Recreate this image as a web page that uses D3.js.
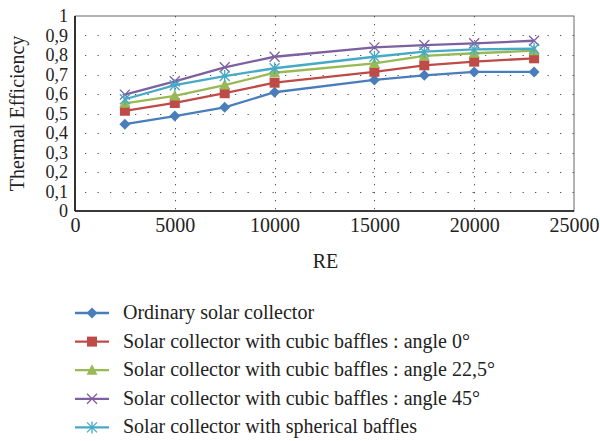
<!DOCTYPE html>
<html>
<head>
<meta charset="utf-8">
<script src="https://cdn.jsdelivr.net/npm/d3@7/dist/d3.min.js"></script>
<style>
  body { margin: 0; background: #fff; }
  svg { font-family: "Liberation Serif", "DejaVu Serif", serif; }
</style>
</head>
<body>
<div id="content"></div>
<script>
var reValues = [2500, 5000, 7500, 10000, 15000, 17500, 20000, 23000];

var ordinary   = [0.445, 0.487, 0.532, 0.609, 0.672, 0.696, 0.713, 0.713];
var cubic0     = [0.514, 0.554, 0.604, 0.658, 0.714, 0.747, 0.766, 0.783];
var cubic225   = [0.552, 0.590, 0.646, 0.709, 0.757, 0.795, 0.809, 0.822];
var cubic45    = [0.597, 0.665, 0.737, 0.791, 0.839, 0.851, 0.860, 0.873];
var spherical  = [0.573, 0.645, 0.692, 0.732, 0.791, 0.817, 0.829, 0.832];

var seriesNames = ['Ordinary solar collector',
                   'Solar collector with cubic baffles : angle 0°',
                   'Solar collector with cubic baffles : angle 22,5°',
                   'Solar collector with cubic baffles : angle 45°',
                   'Solar collector with spherical baffles'];

var xTicks = [0, 5000, 10000, 15000, 20000, 25000];
var yTicks = [0, 0.1, 0.2, 0.3, 0.4, 0.5, 0.6, 0.7, 0.8, 0.9, 1];

var series = [
    {name: seriesNames[0], values: ordinary,  color: '#4a7ebb', marker: 'diamond'},
    {name: seriesNames[1], values: cubic0,    color: '#be4b48', marker: 'square'},
    {name: seriesNames[2], values: cubic225,  color: '#98b954', marker: 'triangle'},
    {name: seriesNames[3], values: cubic45,   color: '#7d60a0', marker: 'x'},
    {name: seriesNames[4], values: spherical, color: '#46aac5', marker: 'star'}
];

var width = 600, height = 441;
var plotL = 75, plotR = 574, plotT = 16, plotB = 211;
var fontSize = 20;

var svg = d3.select('div#content').append('svg')
    .attr('width', width)
    .attr('height', height);

var x = d3.scaleLinear().domain([0, 25000]).range([plotL, plotR]);
var y = d3.scaleLinear().domain([0, 1]).range([plotB, plotT]);

// dotted grid
svg.append('g').selectAll('line')
    .data(yTicks.slice(1, -1)).enter()
    .append('line')
        .attr('x1', plotL).attr('x2', plotR)
        .attr('y1', function(d){ return Math.round(y(d)) + 0.5; })
        .attr('y2', function(d){ return Math.round(y(d)) + 0.5; })
        .attr('stroke', '#555')
        .attr('stroke-width', 1)
        .attr('stroke-dasharray', '1.3,11.2')
        .attr('stroke-dashoffset', -10);

svg.append('g').selectAll('line')
    .data(xTicks.slice(1, -1)).enter()
    .append('line')
        .attr('x1', function(d){ return Math.round(x(d)) + 0.5; })
        .attr('x2', function(d){ return Math.round(x(d)) + 0.5; })
        .attr('y1', plotT).attr('y2', plotB)
        .attr('stroke', '#555')
        .attr('stroke-width', 1)
        .attr('stroke-dasharray', '1.3,6.7');

// plot frame
svg.append('rect')
    .attr('x', plotL).attr('y', plotT)
    .attr('width', plotR - plotL).attr('height', plotB - plotT)
    .attr('fill', 'none')
    .attr('stroke', '#444')
    .attr('stroke-width', 0.8);

svg.append('line')
    .attr('x1', plotL).attr('x2', plotR)
    .attr('y1', plotB).attr('y2', plotB)
    .attr('stroke', '#111').attr('stroke-width', 1.6);
svg.append('line')
    .attr('x1', plotL).attr('x2', plotL)
    .attr('y1', plotT).attr('y2', plotB)
    .attr('stroke', '#111').attr('stroke-width', 1.6);

// axes (labels only)
var fmtY = function(d){ return d === 0 ? '0' : d === 1 ? '1' : d3.format('.1f')(d).replace('.', ','); };

var yAxis = svg.append('g')
    .attr('transform', 'translate(' + plotL + ',0)')
    .call(d3.axisLeft(y).tickValues(yTicks).tickFormat(fmtY).tickSize(0).tickPadding(7));
var xAxis = svg.append('g')
    .attr('transform', 'translate(0,' + plotB + ')')
    .call(d3.axisBottom(x).tickValues(xTicks).tickFormat(d3.format('d')).tickSize(0).tickPadding(7));

xAxis.select('.domain').remove();
xAxis.selectAll('text')
    .attr('font-family', '"Liberation Serif", serif')
    .attr('font-size', fontSize)
    .attr('fill', '#222');

yAxis.select('.domain').remove();
yAxis.selectAll('text')
    .attr('font-family', '"Liberation Serif", serif')
    .attr('font-size', 18)
    .attr('fill', '#222');

svg.append('text')
    .attr('x', (plotL + plotR) / 2 + 1)
    .attr('y', 268)
    .attr('text-anchor', 'middle')
    .attr('font-size', fontSize)
    .attr('fill', '#222')
    .text('RE');

svg.append('text')
    .attr('transform', 'translate(24,' + ((plotT + plotB) / 2) + ') rotate(-90)')
    .attr('text-anchor', 'middle')
    .attr('font-size', fontSize)
    .attr('fill', '#222')
    .text('Thermal Efficiency');

function drawMarker(g, type, color) {
    if (type === 'diamond') {
        g.append('path').attr('d', 'M0,-5.5L5.5,0L0,5.5L-5.5,0Z').attr('fill', color);
    } else if (type === 'square') {
        g.append('rect').attr('x', -5).attr('y', -5).attr('width', 10).attr('height', 10).attr('fill', color);
    } else if (type === 'triangle') {
        g.append('path').attr('d', 'M0,-6L5.5,4.5L-5.5,4.5Z').attr('fill', color);
    } else if (type === 'x') {
        g.append('path').attr('d', 'M-5,-5L5,5M-5,5L5,-5')
            .attr('stroke', color).attr('stroke-width', 1.3).attr('fill', 'none');
    } else if (type === 'star') {
        g.append('path').attr('d', 'M-5,-5L5,5M-5,5L5,-5M0,-6L0,6')
            .attr('stroke', color).attr('stroke-width', 1.3).attr('fill', 'none');
    }
}

var line = d3.line()
    .x(function(d){ return x(d[0]); })
    .y(function(d){ return y(d[1]); });

series.forEach(function(s){
    var pts = reValues.map(function(r, i){ return [r, s.values[i]]; });
    svg.append('path')
        .datum(pts)
        .attr('d', line)
        .attr('fill', 'none')
        .attr('stroke', s.color)
        .attr('stroke-width', 2.3);
    pts.forEach(function(p){
        var g = svg.append('g').attr('transform', 'translate(' + x(p[0]) + ',' + y(p[1]) + ')');
        drawMarker(g, s.marker, s.color);
    });
});

// legend
var legend = svg.append('g');
series.forEach(function(s, i){
    var ly = 313 + i * 28.6;
    legend.append('line')
        .attr('x1', 75).attr('x2', 109)
        .attr('y1', ly).attr('y2', ly)
        .attr('stroke', s.color).attr('stroke-width', 2.3);
    var g = legend.append('g').attr('transform', 'translate(92,' + ly + ')');
    drawMarker(g, s.marker, s.color);
    legend.append('text')
        .attr('x', 123).attr('y', ly + 6)
        .attr('font-size', fontSize)
        .attr('fill', '#222')
        .text(s.name);
});
</script>
</body>
</html>
